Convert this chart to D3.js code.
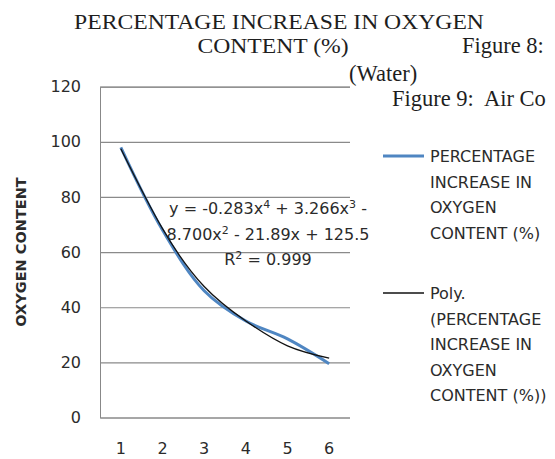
<!DOCTYPE html>
<html>
<head>
<meta charset="utf-8">
<script src="https://cdn.jsdelivr.net/npm/d3@7"></script>
<style>
  body { margin: 0; background: #fff; }
</style>
</head>
<body>
<div id="wrapper"></div>
<script>
// data
const categories = [1, 2, 3, 4, 5, 6]
const oxygenIncrease = [98, 68, 46, 35, 28.5, 19.5]
// polynomial trendline, read at each category
const polyTrend = [97.5, 68.5, 47.5, 35, 26, 21.5]
const yTicks = [0, 20, 40, 60, 80, 100, 120]
const legendData = ["PERCENTAGE", "INCREASE IN", "OXYGEN", "CONTENT  (%)"]
const legendTrend = ["Poly.", "(PERCENTAGE", "INCREASE IN", "OXYGEN", "CONTENT  (%))"]

function drawChart() {
  const width = 555
  const height = 459

  const svg = d3.select("#wrapper")
    .append("svg")
      .attr("width", width)
      .attr("height", height)

  const serif = "'Liberation Serif', 'Times New Roman', serif"
  const sans = "'DejaVu Sans', sans-serif"
  const textColor = "#2b2b2b"

  // scales
  const xScale = d3.scaleBand()
      .domain(categories)
      .range([100, 350])
  const xPos = d => xScale(d) + xScale.bandwidth() / 2

  const yScale = d3.scaleLinear()
      .domain([0, 120])
      .range([417.5, 86.7])

  // gridlines + y labels
  const yAxis = svg.append("g")
      .attr("transform", "translate(100,0)")
      .call(d3.axisLeft(yScale)
        .tickValues(yTicks)
        .tickSize(-250)
        .tickPadding(19))
  yAxis.select(".domain").attr("stroke", "#888")
  yAxis.selectAll(".tick line").attr("stroke", "#8a8a8a").attr("stroke-width", 1.2)
  yAxis.selectAll(".tick text")
      .attr("fill", textColor)
      .style("font-family", sans)
      .style("font-size", "16px")

  // x labels
  const xAxis = svg.append("g")
      .attr("transform", "translate(0,417.5)")
      .call(d3.axisBottom(xScale).tickSize(0).tickPadding(25))
  xAxis.select(".domain").remove()
  xAxis.selectAll(".tick text")
      .attr("fill", textColor)
      .style("font-family", sans)
      .style("font-size", "16px")

  // y axis title
  svg.append("text")
      .attr("transform", "translate(26,252) rotate(-90)")
      .attr("text-anchor", "middle")
      .style("font-family", sans)
      .style("font-weight", "bold")
      .style("font-size", "14.5px")
      .attr("fill", textColor)
      .text("OXYGEN CONTENT")

  // data line
  const dataLine = d3.line()
      .x((d, i) => xPos(categories[i]))
      .y(d => yScale(d))
      .curve(d3.curveCatmullRom)

  svg.append("path")
      .datum(oxygenIncrease)
      .attr("fill", "none")
      .attr("stroke", "#4f86c2")
      .attr("stroke-width", 3)
      .attr("d", dataLine)

  // trendline
  const trendLine = d3.line()
      .x((d, i) => xPos(categories[i]))
      .y(d => yScale(d))
      .curve(d3.curveNatural)

  svg.append("path")
      .datum(polyTrend)
      .attr("fill", "none")
      .attr("stroke", "#111")
      .attr("stroke-width", 1.3)
      .attr("d", trendLine)

  // trendline equation
  const eq = svg.append("g")
      .style("font-family", sans)
      .style("font-size", "16px")
      .attr("fill", textColor)
      .attr("text-anchor", "middle")

  const l1 = eq.append("text").attr("x", 268).attr("y", 214)
  l1.append("tspan").text("y = -0.283x")
  l1.append("tspan").attr("dy", -6).style("font-size", "11px").text("4")
  l1.append("tspan").attr("dy", 6).text(" + 3.266x")
  l1.append("tspan").attr("dy", -6).style("font-size", "11px").text("3")
  l1.append("tspan").attr("dy", 6).text(" -")

  const l2 = eq.append("text").attr("x", 268).attr("y", 240)
  l2.append("tspan").text("8.700x")
  l2.append("tspan").attr("dy", -6).style("font-size", "11px").text("2")
  l2.append("tspan").attr("dy", 6).text(" - 21.89x + 125.5")

  const l3 = eq.append("text").attr("x", 268).attr("y", 265)
  l3.append("tspan").text("R")
  l3.append("tspan").attr("dy", -6).style("font-size", "11px").text("2")
  l3.append("tspan").attr("dy", 6).text(" = 0.999")

  // legend
  const legend = svg.append("g")
      .style("font-family", sans)
      .style("font-size", "16px")
      .attr("fill", textColor)

  legend.append("line")
      .attr("x1", 383).attr("x2", 424)
      .attr("y1", 156).attr("y2", 156)
      .attr("stroke", "#4f86c2")
      .attr("stroke-width", 3)
  legend.selectAll(".leg1")
      .data(legendData)
    .enter().append("text")
      .attr("x", 430)
      .attr("y", (d, i) => 162 + i * 25.6)
      .text(d => d)

  legend.append("line")
      .attr("x1", 383).attr("x2", 424)
      .attr("y1", 293).attr("y2", 293)
      .attr("stroke", "#111")
      .attr("stroke-width", 1.3)
  legend.selectAll(".leg2")
      .data(legendTrend)
    .enter().append("text")
      .attr("x", 430)
      .attr("y", (d, i) => 299 + i * 25.6)
      .text(d => d)

  // title and the page text around it
  const title = svg.append("g")
      .style("font-family", serif)
      .style("font-size", "21.5px")
      .attr("fill", "#1e1e1e")

  title.append("text")
      .attr("transform", "translate(279,29) scale(1.1,1)")
      .attr("text-anchor", "middle")
      .text("PERCENTAGE INCREASE IN OXYGEN")
  title.append("text")
      .attr("transform", "translate(273,53) scale(1.1,1)")
      .attr("text-anchor", "middle")
      .text("CONTENT (%)")

  const side = svg.append("g")
      .style("font-family", serif)
      .style("font-size", "22.5px")
      .attr("fill", "#1e1e1e")

  side.append("text")
      .attr("x", 462).attr("y", 53)
      .text("Figure 8:")
  side.append("text")
      .attr("x", 349).attr("y", 81)
      .text("(Water)")
  side.append("text")
      .attr("x", 392).attr("y", 106)
      .style("white-space", "pre")
      .text("Figure 9:  Air Co")
}
drawChart()
</script>
</body>
</html>
